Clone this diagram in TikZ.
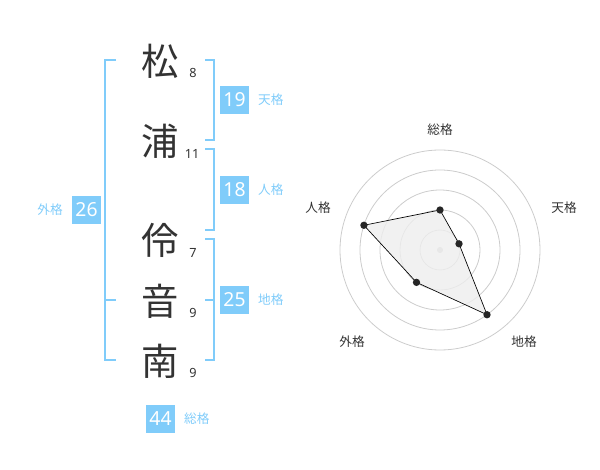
\documentclass[tikz,border=0pt]{standalone}
\usepackage{fontspec}
\setmainfont{Noto Sans}
\newfontfamily\jpfont{Noto Sans CJK JP}
\usetikzlibrary{positioning}
\definecolor{skyb}{RGB}{128,204,250}
\definecolor{ink}{RGB}{51,51,51}
\definecolor{ring}{RGB}{204,204,204}
\definecolor{area}{RGB}{238,238,238}

\begin{document}
\begin{tikzpicture}[x=0.75pt,y=-0.75pt]
        \tikzstyle{kanji}=[font=\jpfont\fontsize{28}{28}\selectfont, text=ink, inner sep=0]
        \tikzstyle{strk}=[font=\fontsize{9.5}{10}\selectfont, text=ink, inner sep=0]
        \tikzstyle{score}=[fill=skyb, text=white, font=\fontsize{14.5}{15}\selectfont, minimum width=21.75pt, minimum height=21pt, inner sep=0]
        \tikzstyle{kaku}=[text=skyb, font=\jpfont\fontsize{9.5}{10}\selectfont, inner sep=0]
        \tikzstyle{brk}=[draw=skyb, line width=1.5pt]
        \tikzstyle{axl}=[text=ink, font=\jpfont\fontsize{9.5}{10}\selectfont, inner sep=0]
        \tikzstyle{pt}=[circle, fill=black!85, inner sep=0, minimum size=5.5pt]

        \useasboundingbox (0,0) rectangle (600,470);

        % name and stroke counts
        \node (k1) at (160,61) [kanji]{松};
        \node (k2) at (160,141) [kanji]{浦};
        \node (k3) at (160,240) [kanji]{伶};
        \node (k4) at (160,301) [kanji]{音};
        \node (k5) at (160,361) [kanji]{南};

        \node (s1) at (193,73) [strk]{8};
        \node (s2) at (192,153.5) [strk]{11};
        \node (s3) at (193,252.5) [strk]{7};
        \node (s4) at (193,312.5) [strk]{9};
        \node (s5) at (193,372.5) [strk]{9};

        % brackets
        \draw[brk] (116,60) -- (105,60) -- (105,360) -- (116,360);
        \draw[brk] (105,300) -- (116,300);
        \draw[brk] (205,60) -- (214,60) -- (214,140) -- (205,140);
        \draw[brk] (205,149) -- (214,149) -- (214,230) -- (205,230);
        \draw[brk] (205,239) -- (214,239) -- (214,360) -- (205,360);
        \draw[brk] (205,300) -- (214,300);

        % scores
        \node (ten) at (234.5,100) [score]{19};
        \node (jin) at (234.5,190) [score]{18};
        \node (chi) at (234.5,300) [score]{25};
        \node (gai) at (86.5,210) [score]{26};
        \node (sou) at (160.5,419) [score]{44};

        \node (tenl) [kaku, right=6.5pt of ten]{天格};
        \node (jinl) [kaku, right=6.5pt of jin]{人格};
        \node (chil) [kaku, right=6.5pt of chi]{地格};
        \node (gail) [kaku, left=6.5pt of gai]{外格};
        \node (soul) [kaku, right=6.5pt of sou]{総格};

        % radar
        \begin{scope}[shift={(440,250)}, y=0.75pt]
            \foreach \r in {20,40,...,100}
                \draw[ring, line width=0.6pt] (0,0) circle (\r);
            \fill[ring] (0,0) circle (3);

            \coordinate (rs) at (90:40);
            \coordinate (rt) at (18:20);
            \coordinate (rc) at (-54:80);
            \coordinate (rg) at (-126:40);
            \coordinate (rj) at (162:80);
            \draw[fill=area, fill opacity=0.8, draw=black, line width=0.5pt] (rs)--(rt)--(rc)--(rg)--(rj)--cycle;
            \foreach \p in {rs,rt,rc,rg,rj}
                \node[pt] at (\p) {};

            \node (as) at (0,120) [axl]{総格};
            \node (at) at (124,42) [axl]{天格};
            \node (ac) at (84,-92) [axl]{地格};
            \node (ag) at (-88,-92) [axl]{外格};
            \node (aj) at (-122,42) [axl]{人格};
        \end{scope}
\end{tikzpicture}
\end{document}
